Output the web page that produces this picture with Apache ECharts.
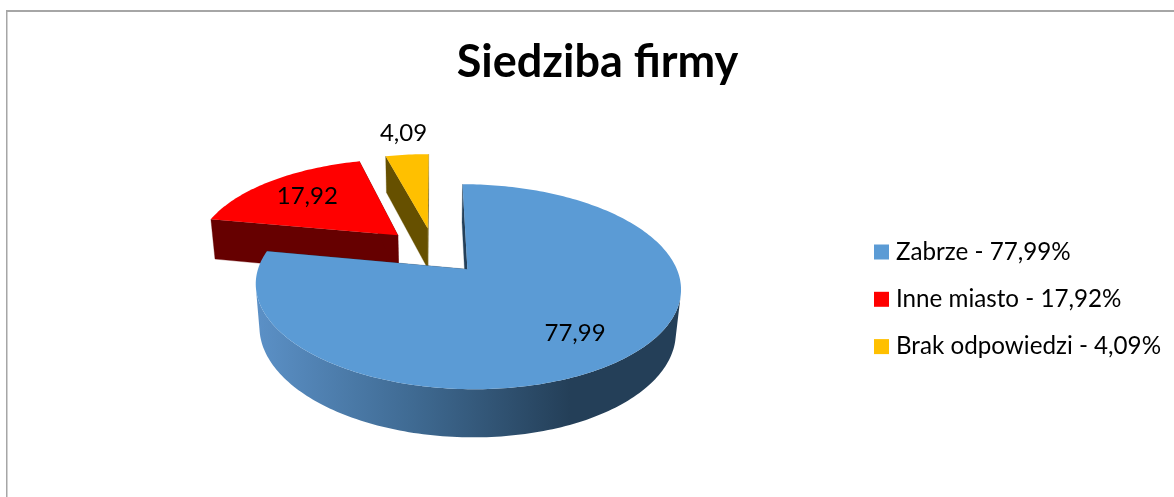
<!DOCTYPE html>
<html><head><meta charset="utf-8">
<style>html,body{margin:0;padding:0;background:#fff}#c{width:1174px;height:497px}</style>
<script src="https://cdn.jsdelivr.net/npm/echarts@6/dist/echarts.min.js"></script>
</head><body><div id="c"></div>
<script>
var categories = ['Zabrze', 'Inne miasto', 'Brak odpowiedzi'];
var values = [77.99, 17.92, 4.09];
var valueLabels = ['77,99', '17,92', '4,09'];
var legendLabels = ['Zabrze - 77,99%', 'Inne miasto - 17,92%', 'Brak odpowiedzi - 4,09%'];
var topColors = ['#5B9BD5', '#FF0000', '#FFC000'];
var wallColors = ['#24405A', '#660000', '#665000'];

// projection of the tilted, exploded pie
var P = {tx: 434, ty: 250.7, sx: 202.8, sy: 93.3, k: 0.165, q: 0.02, h: 42.4, explode: 0.25,
  labelRadius: [0.72, 0.72, 1.35], labelShift: [[-2, 3], [3, 1], [2.5, 0]]};
var FONT = 'Lato';

function project(u, v, lower) {
  var w = 1 - P.k * v + (lower ? P.q : 0);
  return [P.tx + P.sx * u / w, P.ty + (P.sy * v + (lower ? P.h : 0)) / w];
}
var total = values.reduce(function (a, b) { return a + b; }, 0);
function startAngle(i) {
  var s = 0;
  for (var j = 0; j < i; j++) s += values[j];
  return s / total * Math.PI * 2;
}
function quadArea(q) {
  var sum = 0;
  for (var i = 0; i < q.length; i++) {
    var a = q[i], b = q[(i + 1) % q.length];
    sum += a[0] * b[1] - b[0] * a[1];
  }
  return sum / 2;
}
function renderSlice(params, api) {
  var i = params.seriesIndex, val = api.value(0);
  var a0 = startAngle(i), a1 = a0 + val / total * Math.PI * 2, mid = (a0 + a1) / 2;
  var ou = Math.sin(mid) * P.explode, ov = -Math.cos(mid) * P.explode;
  var topArc = [], lowArc = [], n = Math.max(8, Math.ceil((a1 - a0) / 0.02));
  for (var t = 0; t <= n; t++) {
    var a = a0 + (a1 - a0) * t / n, u = ou + Math.sin(a), v = ov - Math.cos(a);
    topArc.push(project(u, v, false));
    lowArc.push(project(u, v, true));
  }
  var cTop = project(ou, ov, false), cLow = project(ou, ov, true);
  var wallFill = i === 0
    ? new echarts.graphic.LinearGradient(258, 0, 570, 0, [
        {offset: 0, color: '#5B90C6'}, {offset: 0.5, color: '#3F6A92'}, {offset: 1, color: '#243F58'}], true)
    : wallColors[i];
  var side = function (idx) {
    return {type: 'polygon', shape: {points: [cTop, topArc[idx], lowArc[idx], cLow]},
      style: {fill: wallColors[i], stroke: wallColors[i], lineWidth: 0.3}};
  };
  var rL = P.labelRadius[i];
  var lp = project(ou + Math.sin(mid) * rL, ov - Math.cos(mid) * rL, false);
  // outer wall: viewer-facing quads joined into one path, so no seams show
  var d = '';
  for (var s = 0; s < n; s++) {
    var q = [topArc[s], topArc[s + 1], lowArc[s + 1], lowArc[s]];
    if (quadArea(q) < 0) {
      d += 'M' + q.map(function (p) { return p[0].toFixed(2) + ' ' + p[1].toFixed(2); }).join('L') + 'Z';
    }
  }
  var children = [side(0), side(n)];
  if (d) children.push({type: 'path', shape: {pathData: d}, style: {fill: wallFill}});
  children.push(
    {type: 'polygon', shape: {points: [cTop].concat(topArc)}, style: {fill: topColors[i]}},
    {type: 'text', x: lp[0] + P.labelShift[i][0], y: lp[1] + P.labelShift[i][1],
      style: {text: valueLabels[i], fill: '#000', font: '24px ' + FONT, align: 'center', verticalAlign: 'middle'}}
  );
  return {type: 'group', children: children};
}
var drawOrder = [12, 11, 10];
var series = categories.map(function (c, i) {
  return {
    type: 'custom', name: legendLabels[i], coordinateSystem: 'none', z: drawOrder[i],
    silent: true, animation: false, clip: false,
    itemStyle: {color: topColors[i]},
    renderItem: renderSlice, data: [[values[i]]]
  };
});
var chart = echarts.init(document.getElementById('c'), null, {renderer: 'canvas'});
chart.setOption({
  backgroundColor: '#fff', animation: false,
  title: {text: 'Siedziba firmy', left: 592.5, top: 35, textAlign: 'center',
    textStyle: {fontFamily: FONT, fontWeight: 'bold', fontSize: 45, color: '#000'}},
  legend: {orient: 'vertical', left: 874, top: 240, padding: 0, itemWidth: 15, itemHeight: 15, itemGap: 23.3, icon: 'rect',
    selectedMode: false, data: legendLabels,
    textStyle: {fontFamily: FONT, fontSize: 24.2, color: '#000', padding: [0, 0, 0, 2]}},
  graphic: [
    {type: 'line', shape: {x1: 6.75, y1: 10, x2: 6.75, y2: 497}, style: {stroke: '#A6A6A6', lineWidth: 1.5}},
    {type: 'line', shape: {x1: 6, y1: 11, x2: 1174, y2: 11}, style: {stroke: '#A6A6A6', lineWidth: 2}}
  ],
  series: series
});
</script></body></html>
